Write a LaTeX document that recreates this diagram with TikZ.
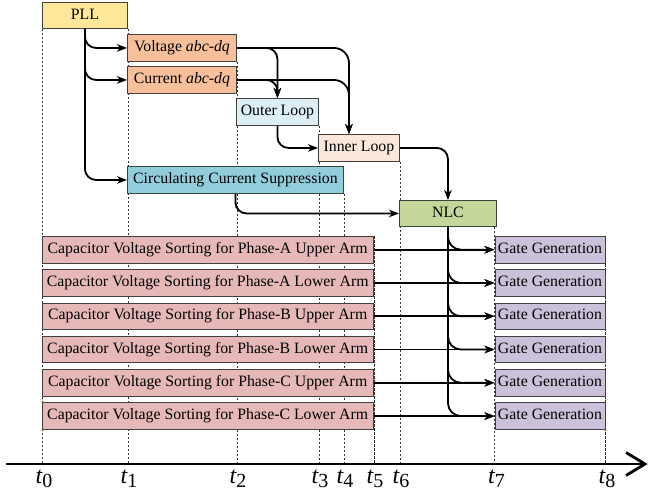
\documentclass[tikz,border=0pt]{standalone}
\usepackage{fontspec}
\setmainfont{Liberation Serif}
\usetikzlibrary{arrows.meta}
\pgfdeclarelayer{background}
\pgfsetlayers{background,main}
\definecolor{bordc}{HTML}{404040}
\definecolor{cPLL}{HTML}{FFE699}
\definecolor{cABC}{HTML}{F7C09A}
\definecolor{cOuter}{HTML}{DDEEF4}
\definecolor{cInner}{HTML}{FCE8DA}
\definecolor{cCirc}{HTML}{92CDDC}
\definecolor{cNLC}{HTML}{C4D79B}
\definecolor{cSort}{HTML}{E6B9B8}
\definecolor{cGate}{HTML}{CCC1DA}
\newcommand\tlabel[1]{{\fontsize{24}{24}\selectfont\itshape t}\raisebox{-4.5pt}{\fontsize{20}{20}\selectfont #1}}
\begin{document}
\begin{tikzpicture}[x=1pt,y=-1pt,
  box/.style={draw=bordc, line width=0.9pt, inner sep=0pt, anchor=north west,
    text height=10.5pt, text depth=3pt, font=\fontsize{15.8}{15.8}\selectfont},
  arr/.style={-{Stealth[length=10pt,width=7.5pt,inset=3pt]}, line width=1.8pt, rounded corners=11pt},
  tl/.style={dash pattern=on 2.5pt off 1.5pt, line width=0.6pt, black!80},
  tlab/.style={anchor=base west, inner sep=0pt}]
\useasboundingbox (0,0) rectangle (649,491);
\coordinate (ax) at (0,464);

% boxes
\node[box, fill=cPLL, minimum width=85pt, minimum height=26pt] (pll) at (42,2) {PLL};
\node[box, fill=cABC, minimum width=109pt, minimum height=27pt] (volt) at (127,34) {Voltage \textit{abc-dq}};
\node[box, fill=cABC, minimum width=109pt, minimum height=27pt] (curr) at (127,66) {Current \textit{abc-dq}};
\node[box, fill=cOuter, minimum width=82pt, minimum height=27pt] (outer) at (236,98) {Outer Loop};
\node[box, fill=cInner, minimum width=81pt, minimum height=27pt] (inner) at (318,134) {Inner Loop};
\node[box, fill=cCirc, minimum width=216pt, minimum height=27pt] (circ) at (127,166) {Circulating Current Suppression};
\node[box, fill=cNLC, minimum width=97pt, minimum height=26pt] (nlc) at (399,200) {NLC};
\foreach \i/\ph/\arm in {1/A/Upper,2/A/Lower,3/B/Upper,4/B/Lower,5/C/Upper,6/C/Lower}{
  \node[box, fill=cSort, minimum width=331.5pt, minimum height=26.5pt] (sort\i) at (41.5,{236+33.27*(\i-1)}) {Capacitor Voltage Sorting for Phase-\ph\ \arm\ Arm};
  \node[box, fill=cGate, minimum width=110pt, minimum height=26.5pt] (gate\i) at (494.5,{236+33.27*(\i-1)}) {Gate Generation};
}

% time lines
\begin{pgfonlayer}{background}
\draw[tl] (pll.south west) -- (pll.south west |- ax);
\draw[tl] (pll.south east) -- (pll.south east |- ax);
\draw[tl] (volt.south east) -- (volt.south east |- ax);
\draw[tl] (outer.south east) -- (outer.south east |- ax);
\draw[tl] (circ.south east) -- (circ.south east |- ax);
\draw[tl] (sort1.north east) -- (sort1.north east |- ax);
\draw[tl] (inner.south east) -- (inner.south east |- ax);
\draw[tl] (gate1.north west |- nlc.south) -- (gate1.north west |- ax);
\draw[tl] (gate1.north east) -- (gate1.north east |- ax);
\end{pgfonlayer}

% connectors
\draw[arr] (pll.south) |- (volt.west);
\draw[arr] (pll.south) |- (curr.west);
\draw[arr] (pll.south) |- (circ.west);
\draw[arr] (volt.east) -| (outer.north);
\draw[arr, rounded corners=15pt] (volt.east) -| ([xshift=-10pt]inner.north);
\draw[arr] (curr.east) -| (outer.north);
\draw[arr, rounded corners=15pt] (curr.east) -| ([xshift=-10pt]inner.north);
\draw[arr] (outer.south) |- (inner.west);
\draw[arr] (inner.east) -| (nlc.north);
\draw[arr] (circ.south) |- (nlc.west);
\foreach \i in {1,...,6}{
  \draw[arr] (sort\i.east) -- (gate\i.west);
  \draw[arr, rounded corners=13pt] (nlc.south) |- (gate\i.west);
}

% time axis
\coordinate (axs) at (6,464);
\coordinate (axe) at (645,464);
\draw[line width=1.9pt] (axs) -- (axe);
\draw[line width=2.8pt, miter limit=10] ([shift={(-19,-11.5)}]axe) -- (axe) -- ([shift={(-19,11.5)}]axe);

% labels
\node[tlab] (l0) at (35.5,483) {\tlabel{0}};
\node[tlab] (l1) at (120.5,483) {\tlabel{1}};
\node[tlab] (l2) at (229.5,483) {\tlabel{2}};
\node[tlab] (l3) at (311.5,483) {\tlabel{3}};
\node[tlab] (l4) at (336.5,483) {\tlabel{4}};
\node[tlab] (l5) at (366.5,483) {\tlabel{5}};
\node[tlab] (l6) at (392.5,483) {\tlabel{6}};
\node[tlab] (l7) at (488,483) {\tlabel{7}};
\node[tlab] (l8) at (598.5,483) {\tlabel{8}};
\end{tikzpicture}
\end{document}
